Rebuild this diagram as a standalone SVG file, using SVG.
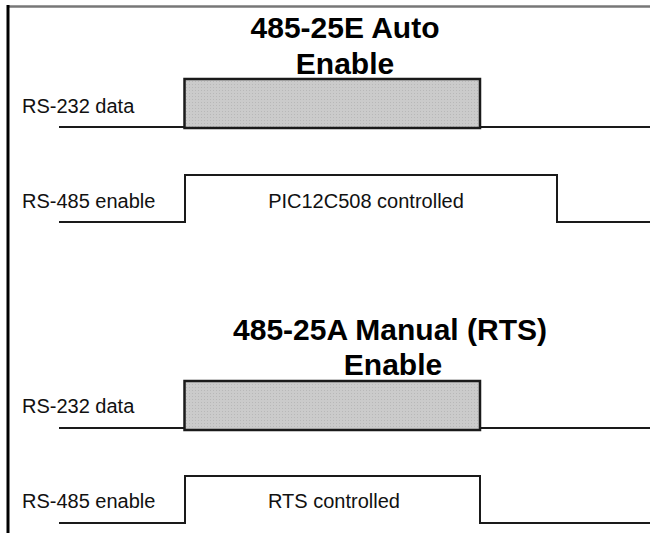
<svg xmlns="http://www.w3.org/2000/svg" width="650" height="533" viewBox="0 0 650 533">
<style>
.title{font-family:"Liberation Sans",Arial,sans-serif;font-weight:bold;font-size:30px;fill:#000}
.lbl{font-family:"Liberation Sans",Arial,sans-serif;font-size:20px;fill:#111}
.sig{fill:none;stroke:#1a1a1a;stroke-width:2}
.data{fill:url(#dots);stroke:#1a1a1a;stroke-width:2.5}
</style>
<defs>
<pattern id="dots" width="3" height="3" patternUnits="userSpaceOnUse">
<rect width="3" height="3" fill="#cbcbcb"/>
<rect width="1" height="1" fill="#b8b8b8"/>
</pattern>
</defs>
<rect width="650" height="533" fill="#fff"/>
<g id="frame">
<line x1="7" y1="6.5" x2="650" y2="6.5" stroke="#777" stroke-width="2.5"/>
<line x1="8" y1="5" x2="8" y2="533" stroke="#000" stroke-width="3"/>
</g>
<g id="title-auto">
<text class="title" x="345" y="38" text-anchor="middle">485-25E Auto</text>
<text class="title" x="345" y="74" text-anchor="middle">Enable</text>
</g>
<g id="title-manual">
<text class="title" x="390" y="340" text-anchor="middle">485-25A Manual (RTS)</text>
<text class="title" x="393" y="375" text-anchor="middle">Enable</text>
</g>
<g id="labels">
<text class="lbl" x="22" y="113">RS-232 data</text>
<text class="lbl" x="22" y="208">RS-485 enable</text>
<text class="lbl" x="22" y="413">RS-232 data</text>
<text class="lbl" x="22" y="508">RS-485 enable</text>
</g>
<g id="connectors">
<polyline class="sig" points="59,127 184,127"/>
<polyline class="sig" points="480,127 650,127"/>
<polyline class="sig" points="59,222 185,222 185,175 557,175 557,222 650,222"/>
<polyline class="sig" points="59,428 184,428"/>
<polyline class="sig" points="480,428 650,428"/>
<polyline class="sig" points="59,523 185,523 185,476 480,476 480,523 650,523"/>
</g>
<g id="data-auto">
<rect class="data" x="184.5" y="79" width="295.5" height="49"/>
</g>
<g id="enable-auto">
<text class="lbl" x="366" y="208" text-anchor="middle">PIC12C508 controlled</text>
</g>
<g id="data-manual">
<rect class="data" x="184.5" y="381" width="295.5" height="49"/>
</g>
<g id="enable-manual">
<text class="lbl" x="334" y="508" text-anchor="middle">RTS controlled</text>
</g>
</svg>
